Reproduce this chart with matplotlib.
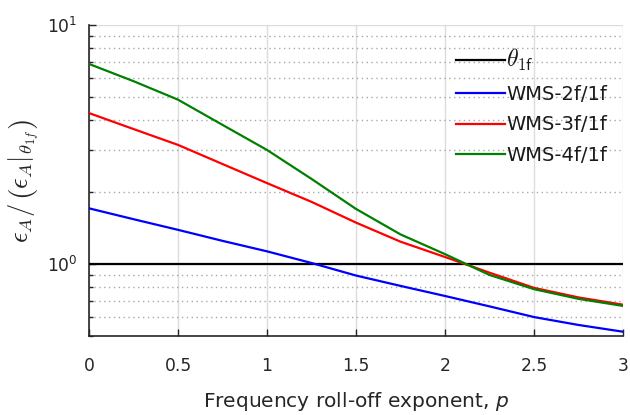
import matplotlib
matplotlib.use("Agg")
import matplotlib.pyplot as plt
from matplotlib.ticker import LogLocator, NullFormatter, FixedLocator

# Frequency roll-off exponent
p = [0, 0.25, 0.5, 0.75, 1.0, 1.25, 1.5, 1.75, 2.0, 2.25, 2.5, 2.75, 3.0]

# Error ratios relative to the 1f peak-based estimate
theta_1f = [1.0] * len(p)
wms_2f = [1.71, 1.54, 1.39, 1.25, 1.13, 1.01, 0.895, 0.81, 0.735, 0.665, 0.60, 0.556, 0.521]
wms_3f = [4.28, 3.67, 3.15, 2.62, 2.18, 1.82, 1.49, 1.24, 1.07, 0.92, 0.795, 0.725, 0.676]
wms_4f = [6.87, 5.82, 4.87, 3.82, 3.00, 2.27, 1.70, 1.33, 1.10, 0.90, 0.785, 0.715, 0.668]

labels = [r'$\theta_{\mathsf{1f}}$', 'WMS-2f/1f', 'WMS-3f/1f', 'WMS-4f/1f']
colors = ['black', (0, 0, 1), (1, 0, 0), (0, 0.5, 0)]

plt.rcParams['font.family'] = ['DejaVu Sans']
plt.rcParams['mathtext.fontset'] = 'dejavusans'

text_col = '#262626'

fig = plt.figure(figsize=(6.3, 4.15), dpi=100)
ax = fig.add_axes([0.1413, 0.1904, 0.8476, 0.7494])

for series, lab, col in zip([theta_1f, wms_2f, wms_3f, wms_4f], labels, colors):
    ax.plot(p, series, color=col, lw=1.6, label=lab, zorder=3)

ax.set_yscale('log')
ax.set_xlim(0, 3)
ax.set_ylim(0.5, 10)

ax.set_xticks([0, 0.5, 1, 1.5, 2, 2.5, 3])
ax.set_xticklabels(['0', '0.5', '1', '1.5', '2', '2.5', '3'])
ax.yaxis.set_major_locator(FixedLocator([1, 10]))
ax.set_yticklabels([r'$10^0$', r'$10^1$'])
ax.yaxis.set_minor_locator(LogLocator(base=10, subs=range(2, 10)))
ax.yaxis.set_minor_formatter(NullFormatter())

ax.grid(True, which='major', color='#dcdcdc', lw=1.0, ls='-', zorder=0)
ax.grid(True, which='minor', axis='y', color='#a8a8a8', lw=1.0, ls=(0, (1, 2.5)), zorder=0)

for side in ['top', 'right']:
    ax.spines[side].set_visible(False)
for side in ['left', 'bottom']:
    ax.spines[side].set_color(text_col)
    ax.spines[side].set_linewidth(1.2)

ax.tick_params(which='both', direction='in', colors=text_col, labelcolor=text_col,
               labelsize=12.3)
ax.tick_params(axis='x', pad=15)
ax.tick_params(axis='y', pad=8)
ax.tick_params(which='major', length=5, width=1.0)
ax.tick_params(which='minor', length=3, width=1.0)

ax.set_xlabel(r'Frequency roll-off exponent, $p$', fontsize=14.5, color=text_col, labelpad=11)
ax.set_ylabel(r'$\epsilon_A/\,\left(\epsilon_A|_{\theta_{1f}}\right)$', fontsize=19,
              color=text_col, labelpad=4, math_fontfamily='cm')

leg = ax.legend(loc='upper left', bbox_to_anchor=(0.655, 0.985), frameon=False,
                fontsize=14, handlelength=2.5, handletextpad=0.05, labelspacing=0.6)
for t in leg.get_texts():
    t.set_color('#1a1a1a')
leg.get_texts()[0].set_math_fontfamily('cm')
leg.get_texts()[0].set_fontsize(17)

fig.savefig('out.png', dpi=100, facecolor='white')
